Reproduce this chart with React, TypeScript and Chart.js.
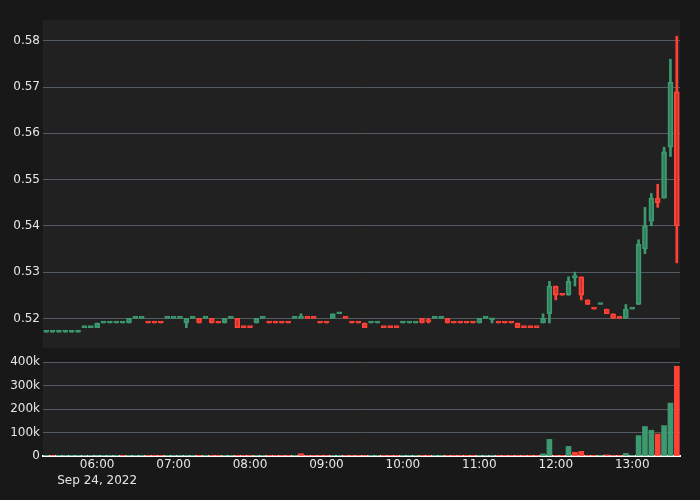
import { useEffect, useRef } from 'react'
import { Chart, registerables } from 'chart.js'

Chart.register(...registerables)

// 5-minute candles, one row per hour
const times = [
  '05:20', '05:25', '05:30', '05:35', '05:40', '05:45', '05:50', '05:55',
  '06:00', '06:05', '06:10', '06:15', '06:20', '06:25', '06:30', '06:35', '06:40', '06:45', '06:50', '06:55',
  '07:00', '07:05', '07:10', '07:15', '07:20', '07:25', '07:30', '07:35', '07:40', '07:45', '07:50', '07:55',
  '08:00', '08:05', '08:10', '08:15', '08:20', '08:25', '08:30', '08:35', '08:40', '08:45', '08:50', '08:55',
  '09:00', '09:05', '09:10', '09:15', '09:20', '09:25', '09:30', '09:35', '09:40', '09:45', '09:50', '09:55',
  '10:00', '10:05', '10:10', '10:15', '10:20', '10:25', '10:30', '10:35', '10:40', '10:45', '10:50', '10:55',
  '11:00', '11:05', '11:10', '11:15', '11:20', '11:25', '11:30', '11:35', '11:40', '11:45', '11:50', '11:55',
  '12:00', '12:05', '12:10', '12:15', '12:20', '12:25', '12:30', '12:35', '12:40', '12:45', '12:50', '12:55',
  '13:00', '13:05', '13:10', '13:15', '13:20', '13:25', '13:30', '13:35',
]
const dateLabel = 'Sep 24, 2022'
const hourTicks = ['06:00', '07:00', '08:00', '09:00', '10:00', '11:00', '12:00', '13:00']
const priceTicks = [0.52, 0.53, 0.54, 0.55, 0.56, 0.57, 0.58]
const volumeTicks = [0, 100000, 200000, 300000, 400000]

const opens = [
  0.517, 0.517, 0.517, 0.517, 0.517, 0.517, 0.518, 0.518,
  0.518, 0.519, 0.519, 0.519, 0.519, 0.519, 0.520, 0.520, 0.519, 0.519, 0.519, 0.520,
  0.520, 0.520, 0.519, 0.520, 0.520, 0.520, 0.520, 0.519, 0.519, 0.520, 0.520, 0.518,
  0.518, 0.519, 0.520, 0.519, 0.519, 0.519, 0.519, 0.520, 0.520, 0.520, 0.520, 0.519,
  0.519, 0.520, 0.521, 0.520, 0.519, 0.519, 0.519, 0.519, 0.519, 0.518, 0.518, 0.518,
  0.519, 0.519, 0.519, 0.520, 0.5197, 0.520, 0.520, 0.520, 0.519, 0.519, 0.519, 0.519,
  0.519, 0.520, 0.5197, 0.519, 0.519, 0.519, 0.519, 0.518, 0.518, 0.518, 0.519, 0.521,
  0.527, 0.525, 0.525, 0.5288, 0.529, 0.524, 0.522, 0.523, 0.522, 0.521, 0.520, 0.520,
  0.522, 0.523, 0.535, 0.541, 0.546, 0.546, 0.557, 0.569,
]
const highs = [
  0.517, 0.517, 0.517, 0.517, 0.517, 0.517, 0.518, 0.518,
  0.519, 0.519, 0.519, 0.519, 0.519, 0.520, 0.520, 0.520, 0.519, 0.519, 0.519, 0.520,
  0.520, 0.520, 0.520, 0.520, 0.520, 0.520, 0.520, 0.519, 0.520, 0.520, 0.520, 0.518,
  0.518, 0.520, 0.520, 0.519, 0.519, 0.519, 0.519, 0.520, 0.521, 0.520, 0.520, 0.519,
  0.519, 0.521, 0.521, 0.520, 0.519, 0.519, 0.519, 0.519, 0.519, 0.518, 0.518, 0.518,
  0.519, 0.519, 0.519, 0.520, 0.520, 0.520, 0.520, 0.520, 0.519, 0.519, 0.519, 0.519,
  0.520, 0.520, 0.520, 0.519, 0.519, 0.519, 0.519, 0.518, 0.518, 0.518, 0.521, 0.528,
  0.527, 0.525, 0.529, 0.530, 0.529, 0.524, 0.522, 0.523, 0.522, 0.521, 0.520, 0.523,
  0.522, 0.537, 0.544, 0.547, 0.549, 0.557, 0.576, 0.581,
]
const lows = [
  0.517, 0.517, 0.517, 0.517, 0.517, 0.517, 0.518, 0.518,
  0.518, 0.519, 0.519, 0.519, 0.519, 0.519, 0.520, 0.520, 0.519, 0.519, 0.519, 0.520,
  0.520, 0.520, 0.518, 0.520, 0.519, 0.520, 0.519, 0.519, 0.519, 0.520, 0.518, 0.518,
  0.518, 0.519, 0.520, 0.519, 0.519, 0.519, 0.519, 0.520, 0.520, 0.520, 0.520, 0.519,
  0.519, 0.520, 0.521, 0.520, 0.519, 0.519, 0.518, 0.519, 0.519, 0.518, 0.518, 0.518,
  0.519, 0.519, 0.519, 0.519, 0.519, 0.520, 0.520, 0.519, 0.519, 0.519, 0.519, 0.519,
  0.519, 0.520, 0.519, 0.519, 0.519, 0.519, 0.518, 0.518, 0.518, 0.518, 0.519, 0.519,
  0.524, 0.525, 0.525, 0.527, 0.524, 0.523, 0.522, 0.523, 0.521, 0.520, 0.520, 0.520,
  0.522, 0.523, 0.534, 0.540, 0.544, 0.546, 0.555, 0.532,
]
const closes = [
  0.517, 0.517, 0.517, 0.517, 0.517, 0.517, 0.518, 0.518,
  0.519, 0.519, 0.519, 0.519, 0.519, 0.520, 0.520, 0.520, 0.519, 0.519, 0.519, 0.520,
  0.520, 0.520, 0.520, 0.520, 0.519, 0.520, 0.519, 0.519, 0.520, 0.520, 0.518, 0.518,
  0.518, 0.520, 0.520, 0.519, 0.519, 0.519, 0.519, 0.520, 0.520, 0.520, 0.520, 0.519,
  0.519, 0.521, 0.521, 0.520, 0.519, 0.519, 0.518, 0.519, 0.519, 0.518, 0.518, 0.518,
  0.519, 0.519, 0.519, 0.519, 0.5193, 0.520, 0.520, 0.519, 0.519, 0.519, 0.519, 0.519,
  0.520, 0.520, 0.520, 0.519, 0.519, 0.519, 0.518, 0.518, 0.518, 0.518, 0.520, 0.527,
  0.525, 0.525, 0.528, 0.5292, 0.525, 0.523, 0.522, 0.523, 0.521, 0.520, 0.520, 0.522,
  0.522, 0.536, 0.540, 0.546, 0.545, 0.556, 0.571, 0.540,
]
// 1 = increasing (green), 0 = decreasing (red)
const candleUp = [
  1, 1, 1, 1, 1, 1, 1, 1,
  1, 1, 1, 1, 1, 1, 1, 1, 0, 0, 0, 1,
  1, 1, 1, 1, 0, 1, 0, 0, 1, 1, 0, 0,
  0, 1, 1, 0, 0, 0, 0, 1, 1, 0, 0, 0,
  0, 1, 1, 0, 0, 0, 0, 1, 1, 0, 0, 0,
  1, 1, 1, 0, 0, 1, 1, 0, 0, 0, 0, 0,
  1, 1, 1, 0, 0, 0, 0, 0, 0, 0, 1, 1,
  0, 0, 1, 1, 0, 0, 0, 1, 0, 0, 0, 1,
  1, 1, 1, 1, 0, 1, 1, 0,
]
const volumes = [
  800, 2000, 600, 500, 700, 600, 900, 700,
  2000, 1200, 900, 800, 3000, 3000, 600, 800, 1000, 700, 900, 1000,
  700, 800, 3000, 1500, 3000, 900, 1200, 800, 1000, 700, 3000, 1200,
  800, 1500, 1000, 900, 700, 800, 900, 600, 10000, 1000, 800, 700,
  600, 1000, 900, 1200, 1500, 800, 2000, 900, 700, 3000, 1500, 1000,
  800, 1200, 900, 1500, 1000, 700, 600, 900, 1000, 800, 1200, 900,
  1500, 800, 600, 700, 800, 900, 1200, 1000, 800, 1500, 9000, 71000,
  3000, 500, 41000, 16000, 20000, 3000, 500, 500, 5000, 1000, 1000, 11000,
  500, 87000, 126000, 110000, 94000, 130000, 226000, 383000,
]
const volumeUp = [
  1, 0, 1, 1, 1, 1, 1, 1,
  1, 1, 1, 1, 0, 1, 1, 1, 0, 0, 0, 1,
  1, 1, 1, 1, 0, 1, 0, 0, 1, 1, 0, 0,
  0, 1, 1, 0, 0, 0, 0, 1, 0, 0, 0, 0,
  0, 1, 1, 0, 0, 0, 0, 1, 1, 0, 0, 0,
  1, 1, 1, 0, 0, 1, 1, 0, 0, 0, 0, 0,
  1, 1, 1, 0, 0, 0, 0, 0, 0, 0, 1, 1,
  0, 0, 1, 0, 0, 0, 0, 1, 0, 0, 0, 1,
  1, 1, 1, 1, 0, 1, 1, 0,
]

const PAGE_BG = '#181818'
const PLOT_BG = '#212121'
const GRID = '#525a63'
const TEXT = '#e6e6e6'
const UP = '#3d9970'
const DOWN = '#ff4136'
const UP_FILL = '#2f7d5b'
const DOWN_FILL = '#c8342b'
const FONT = { family: 'DejaVu Sans', size: 12 }

const plotBackground = {
  id: 'plotBackground',
  beforeDraw(chart: Chart) {
    const { ctx, chartArea } = chart
    ctx.save()
    ctx.fillStyle = PLOT_BG
    ctx.fillRect(chartArea.left, chartArea.top, chartArea.width, chartArea.height)
    ctx.restore()
  },
}

// fixed y-axis width, and no extra room reserved for the end labels
const fixYAxis = (scale: any) => {
  scale.width = 43
  scale.paddingTop = 0
  scale.paddingBottom = 0
}

export default function App() {
  const priceRef = useRef<HTMLCanvasElement>(null)
  const volumeRef = useRef<HTMLCanvasElement>(null)

  useEffect(() => {
    if (!priceRef.current || !volumeRef.current) return

    const lineColors = candleUp.map((u) => (u ? UP : DOWN))
    const fillColors = candleUp.map((u) => (u ? UP_FILL : DOWN_FILL))

    const priceChart = new Chart(priceRef.current, {
      type: 'bar',
      data: {
        labels: times,
        datasets: [
          {
            label: 'body',
            data: times.map((_, i) => [opens[i], closes[i]]),
            backgroundColor: fillColors,
            borderColor: lineColors,
            borderWidth: 2,
            borderSkipped: false,
            barThickness: 5,
            minBarLength: 2,
            grouped: false,
          },
          {
            label: 'wick',
            data: times.map((_, i) => [lows[i], highs[i]]),
            backgroundColor: lineColors,
            borderWidth: 0,
            barThickness: 2,
            grouped: false,
          },
        ],
      },
      options: {
        responsive: false,
        animation: false,
        layout: { padding: { top: 20, right: 20, bottom: 7, left: 0 } },
        plugins: { legend: { display: false }, tooltip: { enabled: false } },
        scales: {
          x: { type: 'category', display: false, offset: true },
          y: {
            min: 0.5136,
            max: 0.5845,
            afterBuildTicks: (scale) => {
              scale.ticks = priceTicks.map((v) => ({ value: v }))
            },
            afterFit: fixYAxis,
            ticks: {
              color: TEXT,
              font: FONT,
              padding: 3,
              callback: (v) => Number(v).toFixed(2),
            },
            grid: { color: GRID, lineWidth: 1, drawTicks: false },
            border: { display: false },
          },
        },
      },
      plugins: [plotBackground],
    })

    const volumeChart = new Chart(volumeRef.current, {
      type: 'bar',
      data: {
        labels: times,
        datasets: [
          {
            label: 'volume',
            data: volumes,
            backgroundColor: volumeUp.map((u) => (u ? UP : DOWN)),
            borderWidth: 0,
            barThickness: 5,
          },
        ],
      },
      options: {
        responsive: false,
        animation: false,
        layout: { padding: { top: 7, right: 20, bottom: 0, left: 0 } },
        plugins: { legend: { display: false }, tooltip: { enabled: false } },
        scales: {
          x: {
            type: 'category',
            offset: true,
            afterBuildTicks: (scale) => {
              scale.ticks = hourTicks.map((h) => ({ value: times.indexOf(h) }))
            },
            afterFit: (scale) => {
              scale.height = 44
            },
            ticks: {
              autoSkip: false,
              maxRotation: 0,
              color: TEXT,
              font: { ...FONT, lineHeight: 1.35 },
              padding: 1,
              callback: function (value, index) {
                const label = times[Number(value)]
                return index === 0 ? [label, dateLabel] : label
              },
            },
            grid: { display: false, drawTicks: false },
            border: { display: true, color: '#ffffff', width: 2 },
          },
          y: {
            min: 0,
            max: 401500,
            afterBuildTicks: (scale) => {
              scale.ticks = volumeTicks.map((v) => ({ value: v }))
            },
            afterFit: fixYAxis,
            ticks: {
              color: TEXT,
              font: FONT,
              padding: 3,
              callback: (v) => (Number(v) === 0 ? '0' : Number(v) / 1000 + 'k'),
            },
            grid: {
              color: (ctx) => (ctx.tick && ctx.tick.value === 0 ? 'rgba(0,0,0,0)' : GRID),
              lineWidth: 1,
              drawTicks: false,
            },
            border: { display: false },
          },
        },
      },
      plugins: [plotBackground],
    })

    return () => {
      priceChart.destroy()
      volumeChart.destroy()
    }
  }, [])

  return (
    <div
      style={{
        position: 'fixed',
        left: 0,
        top: 0,
        width: 700,
        height: 500,
        background: PAGE_BG,
      }}
    >
      <canvas ref={priceRef} width={700} height={355} style={{ display: 'block' }} />
      <canvas ref={volumeRef} width={700} height={145} style={{ display: 'block' }} />
    </div>
  )
}
